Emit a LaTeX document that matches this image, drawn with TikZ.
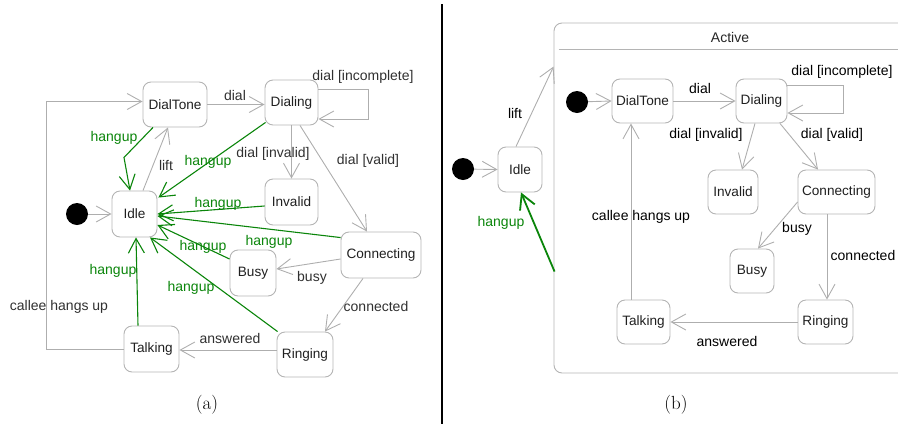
\documentclass[tikz,border=0pt]{standalone}
\usepackage{fontspec}
\newfontfamily\lsans{Liberation Sans}
\usetikzlibrary{arrows.meta,calc}
\definecolor{boxgray}{HTML}{B4B4B4}
\definecolor{edgegray}{HTML}{AEAEAE}
\definecolor{lblgray}{HTML}{303030}
\definecolor{hgreen}{HTML}{0A850A}
\tikzset{
  stbox/.style={draw=boxgray, line width=0.9pt, rounded corners=8pt, inner sep=0pt,
    font=\lsans\fontsize{13.6}{16}\selectfont, text=black!88},
  initdot/.style={circle, fill=black, inner sep=0pt, minimum size=22pt},
  tr/.style={draw=edgegray, line width=0.9pt, -{Straight Barb[length=14.5pt,width=16pt]}},
  hg/.style={tr, draw=hgreen, line width=1.1pt},
  lbla/.style={font=\lsans\fontsize{14}{16}\selectfont, text=lblgray, inner sep=0pt},
  lblg/.style={lbla, text=hgreen},
  lblb/.style={lbla, text=black},
}
\begin{document}
\begin{tikzpicture}[x=1pt,y=-1pt]
\useasboundingbox (0,0) rectangle (898,424);
% ---------- panel (a)
\node[initdot] (ia) at (77,214) {};
\node[stbox, minimum width=64pt, minimum height=45pt] (dtA) at (175,104.5) {DialTone};
\node[stbox, minimum width=53pt, minimum height=45pt] (dlA) at (291.5,102.5) {Dialing};
\node[stbox, minimum width=45pt, minimum height=46pt] (idA) at (134.5,214) {Idle};
\node[stbox, minimum width=53pt, minimum height=46pt] (ivA) at (291.5,202) {Invalid};
\node[stbox, minimum width=80pt, minimum height=46pt] (cnA) at (381,255) {Connecting};
\node[stbox, minimum width=46pt, minimum height=46pt] (bsA) at (253,273) {Busy};
\node[stbox, minimum width=55pt, minimum height=46pt] (tkA) at (151.5,349) {Talking};
\node[stbox, minimum width=56pt, minimum height=45pt] (rgA) at (305,354.5) {Ringing};

\draw[tr] (ia) -- (idA.west);
\draw[tr] (dtA.east) -- (dtA.east -| dlA.west);
\draw[tr] ($(idA.north)+(8.5,0)$) -- ($(dtA.south)+(-7,0)$);
\draw[hg] ($(dtA.south)+(-22,0)$) -- ($(dtA.south)+(-51,30)$) -- ($(idA.north)+(-4.5,0)$);
\draw[hg] ($(dlA.south west)+(1,-3)$) -- ($(idA.north east)+(1,7)$);
\draw[tr] (dlA) -- (ivA);
\draw[tr] ($(dlA.south)+(8.5,0)$) -- ($(cnA.north)+(-14,0)$);
\draw[tr] ($(dlA.east)+(0,-13.5)$) -- ++(50,0) -- ++(0,30) -- ($(dlA.east)+(0,16.5)$);
\draw[hg] ($(ivA.west)+(0,4)$) -- (idA.east);
\draw[hg] ($(cnA.north west)+(0,6)$) -- ($(idA.east)+(0,2)$);
\draw[hg] ($(bsA.west)+(0,-14)$) -- ($(idA.east)+(0,11)$);
\draw[hg] ($(rgA.north west)+(1,0)$) -- ($(idA.south)+(15.5,0)$);
\draw[hg] ($(tkA.north)+(-13.5,0)$) -- ($(idA.south)+(1.5,0)$);
\draw[tr] ($(cnA.west)+(0,4)$) -- ($(bsA.east)+(0,-4)$);
\draw[tr] ($(cnA.south)+(-18,0)$) -- ($(rgA.north)+(20,0)$);
\draw[tr] ($(rgA.west)+(0,-4.5)$) -- ($(tkA.east)+(0,1)$);
\draw[tr] (tkA.west) -| ($(dtA.west)+(-96,-3)$) -- ($(dtA.west)+(0,-3)$);

\node[lbla] (la1) at (363,77) {dial [incomplete]};
\node[lbla] (la2) at (235,95) {dial};
\node[lbla] (la3) at (166,165) {lift};
\node[lblg] (la4) at (114,138) {hangup};
\node[lblg] (la5) at (208,162) {hangup};
\node[lbla] (la6) at (273,154) {dial [invalid]};
\node[lbla] (la7) at (368,161) {dial [valid]};
\node[lblg] (la8) at (218,204) {hangup};
\node[lblg] (la9) at (269,242) {hangup};
\node[lblg] (la10) at (203,247) {hangup};
\node[lblg] (la11) at (191,288) {hangup};
\node[lblg] (la12) at (113,271) {hangup};
\node[lbla] (la13) at (312,278) {busy};
\node[lbla] (la14) at (376,306) {connected};
\node[lbla] (la15) at (230,338) {answered};
\node[lbla] (la16) at (59,307) {callee hangs up};

% ---------- divider
\draw[line width=2pt, black] (442,4) -- (442,424);

% ---------- panel (b)
\begin{scope}
\clip (444,0) rectangle (898,424);
\node[draw=boxgray, line width=0.9pt, rounded corners=8pt, minimum width=356pt, minimum height=350pt, inner sep=0pt] (actv) at (732,198) {};
\draw[boxgray, line width=0.9pt] ($(actv.north west)+(5,27)$) -- ($(actv.north east)+(0,27)$);
\end{scope}
\node[lbla, text=black!85] (actlbl) at (730,37) {Active};

\node[initdot] (ib) at (463,169) {};
\node[initdot] (ib2) at (577,102) {};
\node[stbox, minimum width=44pt, minimum height=45pt] (idB) at (520,169.5) {Idle};
\node[stbox, minimum width=61pt, minimum height=44pt] (dtB) at (642.5,101) {DialTone};
\node[stbox, minimum width=51pt, minimum height=44pt] (dlB) at (761.5,101) {Dialing};
\node[stbox, minimum width=50pt, minimum height=44pt] (ivB) at (733,192) {Invalid};
\node[stbox, minimum width=77pt, minimum height=44pt] (cnB) at (836.5,192) {Connecting};
\node[stbox, minimum width=44pt, minimum height=44pt] (bsB) at (752,271) {Busy};
\node[stbox, minimum width=55pt, minimum height=44pt] (rgB) at (825.5,322) {Ringing};
\node[stbox, minimum width=53pt, minimum height=44pt] (tkB) at (643.5,322) {Talking};

\draw[tr] (ib) -- (idB.west);
\draw[tr] ($(idB.north)+(-4,0)$) -- ($(actv.north west)+(0,44)$);
\draw[hg, line width=1.8pt] ($(actv.north west)+(1,249)$) -- ($(idB.south)+(1,0)$);
\draw[tr] (ib2) -- (dtB.west);
\draw[tr] (dtB.east) -- (dlB.west);
\draw[tr] ($(dlB.east)+(0,-16)$) -- ++(56,0) -- ++(0,28) -- ($(dlB.east)+(0,12)$);
\draw[tr] ($(dlB.south)+(-6.5,0)$) -- ($(ivB.north)+(9,0)$);
\draw[tr] ($(dlB.south)+(18.5,0)$) -- ($(cnB.north)+(-18.5,0)$);
\draw[tr] ($(cnB.west)+(0,10)$) -- ($(bsB.north)+(6,0)$);
\draw[tr] ($(cnB.south)+(-9.5,0)$) -- ($(rgB.north)+(1.5,0)$);
\draw[tr] (rgB.west) -- (tkB.east);
\draw[tr] ($(tkB.north)+(-12.5,0)$) -- ($(dtB.south)+(-11.5,0)$);

\node[lblb] (lb1) at (515,113) {lift};
\node[lblg] (lb2) at (501,223) {hangup};
\node[lblb] (lb3) at (700,88) {dial};
\node[lblb] (lb4) at (842,72) {dial [incomplete]};
\node[lblb] (lb5) at (706,135) {dial [invalid]};
\node[lblb] (lb6) at (832,135) {dial [valid]};
\node[lblb] (lb7) at (797,229) {busy};
\node[lblb] (lb8) at (863,255) {connected};
\node[lblb] (lb9) at (727,341) {answered};
\node[lblb] (lb10) at (641,217) {callee hangs up};

% ---------- captions
\node[font=\fontsize{19}{22}\selectfont, inner sep=0pt] (capa) at (207,405) {(a)};
\node[font=\fontsize{19}{22}\selectfont, inner sep=0pt] (capb) at (676,405) {(b)};
\end{tikzpicture}
\end{document}
